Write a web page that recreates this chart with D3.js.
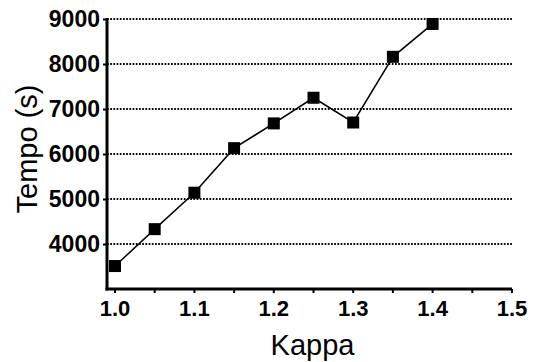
<!DOCTYPE html>
<html>
<head>
<meta charset="utf-8">
<script src="https://cdn.jsdelivr.net/npm/d3@7"></script>
<style>
  html, body { margin: 0; padding: 0; background: #fff; }
  svg { display: block; }
</style>
</head>
<body>
<svg id="chart" width="536" height="362"></svg>
<script>
// Run time (s) for each value of kappa
const kappa = [1.0, 1.05, 1.1, 1.15, 1.2, 1.25, 1.3, 1.35, 1.4];
const tempo = [3510, 4330, 5140, 6130, 6680, 7250, 6700, 8160, 8890];

const xTicks = [1.0, 1.1, 1.2, 1.3, 1.4, 1.5];
const xMinorTicks = [1.0, 1.05, 1.1, 1.15, 1.2, 1.25, 1.3, 1.35, 1.4, 1.45, 1.5];
const yTicks = [4000, 5000, 6000, 7000, 8000, 9000];

const xTitle = "Kappa";
const yTitle = "Tempo (s)";

const svg = d3.select("#chart");
const plotLeft = 107, plotRight = 512, plotTop = 19, plotBottom = 289;
const font = "'Liberation Sans', Arial, Helvetica, sans-serif";

const x = d3.scaleLinear().domain([1.0, 1.5]).range([115, plotRight]);
const y = d3.scaleLinear().domain([3000, 9000]).range([plotBottom, plotTop]);

// dotted horizontal gridlines
svg.append("g")
  .selectAll("line")
  .data(yTicks)
  .join("line")
  .attr("x1", plotLeft)
  .attr("x2", plotRight)
  .attr("y1", d => y(d))
  .attr("y2", d => y(d))
  .attr("stroke", "#000")
  .attr("stroke-width", 2)
  .attr("stroke-dasharray", "1.7,1.5");

// y axis
const yAxis = svg.append("g")
  .attr("transform", `translate(${plotLeft},0)`)
  .call(d3.axisLeft(y).tickValues(yTicks).tickSize(4).tickPadding(3).tickFormat(d3.format("d")));
yAxis.select(".domain").remove();
yAxis.append("line")
  .attr("x1", 0).attr("x2", 0)
  .attr("y1", plotTop - 1).attr("y2", plotBottom + 1.5)
  .attr("stroke", "#000").attr("stroke-width", 3);
yAxis.selectAll(".tick line").attr("stroke-width", 2);
yAxis.selectAll(".tick text")
  .attr("font-family", font)
  .attr("font-size", 23)
  .attr("font-weight", "bold")
  .attr("fill", "#000");

// x axis: minor ticks every 0.05, labels every 0.1
const xAxis = svg.append("g")
  .attr("transform", `translate(0,${plotBottom})`);
xAxis.append("line")
  .attr("x1", plotLeft - 1.5).attr("x2", plotRight)
  .attr("y1", 0).attr("y2", 0)
  .attr("stroke", "#000").attr("stroke-width", 3);
xAxis.selectAll("line.minor")
  .data(xMinorTicks)
  .join("line")
  .attr("class", "minor")
  .attr("x1", d => x(d)).attr("x2", d => x(d))
  .attr("y1", 0).attr("y2", 4)
  .attr("stroke", "#000").attr("stroke-width", 2);
xAxis.selectAll("text")
  .data(xTicks)
  .join("text")
  .attr("x", d => x(d))
  .attr("y", 27)
  .attr("text-anchor", "middle")
  .attr("font-family", font)
  .attr("font-size", 22)
  .attr("font-weight", "bold")
  .attr("fill", "#000")
  .text(d => d3.format(".1f")(d));

// axis titles
svg.append("text")
  .attr("x", (x(1.2) + x(1.3)) / 2 - 1)
  .attr("y", 355)
  .attr("text-anchor", "middle")
  .attr("font-family", font)
  .attr("font-size", 29)
  .attr("fill", "#000")
  .text(xTitle);

svg.append("text")
  .attr("transform", `translate(37,${(plotTop + plotBottom) / 2 - 5}) rotate(-90)`)
  .attr("text-anchor", "middle")
  .attr("font-family", font)
  .attr("font-size", 29)
  .attr("fill", "#000")
  .text(yTitle);

// data line and square markers
const pts = kappa.map((k, i) => [k, tempo[i]]);
svg.append("path")
  .datum(pts)
  .attr("fill", "none")
  .attr("stroke", "#000")
  .attr("stroke-width", 1.5)
  .attr("d", d3.line().x(d => x(d[0])).y(d => y(d[1])));

const s = 12;
svg.append("g")
  .selectAll("rect")
  .data(pts)
  .join("rect")
  .attr("x", d => x(d[0]) - s / 2)
  .attr("y", d => y(d[1]) - s / 2)
  .attr("width", s)
  .attr("height", s)
  .attr("fill", "#000");
</script>
</body>
</html>
